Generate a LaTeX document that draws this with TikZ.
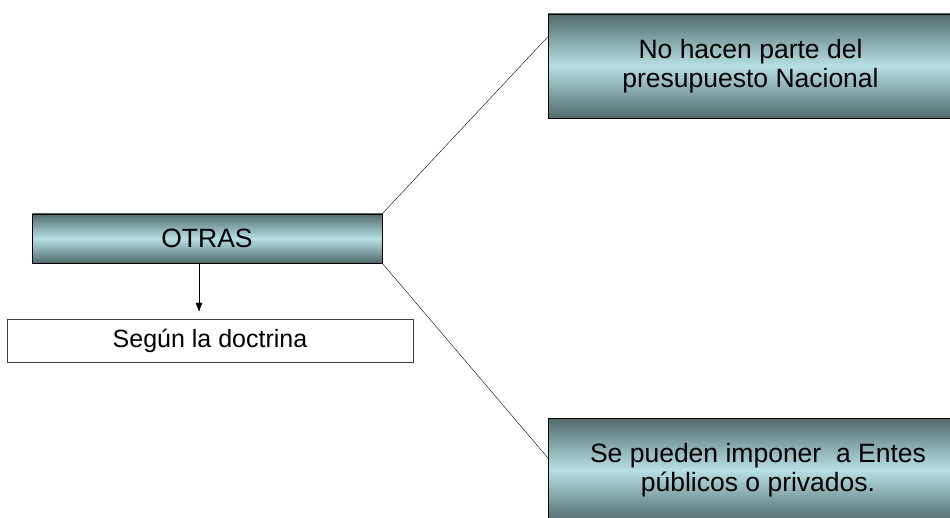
\documentclass[tikz,border=0pt]{standalone}
\usepackage{fontspec}
\setmainfont{Liberation Sans}
\usepackage{tikz}
\usetikzlibrary{%
  calc,
  positioning,
  arrows.meta,
}

\definecolor{boxdark}{RGB}{82,107,107}
\definecolor{boxlight}{RGB}{183,224,228}

\begin{document}
\begin{tikzpicture}[
          x = 1pt, y = -1pt,
          every node/.style = {
            font = \fontsize{26.5}{29}\selectfont,
            align = center,
            inner sep = 0pt,
          },
          caja/.style = {
            rectangle, draw = black, thin,
            top color = boxdark,
            bottom color = boxdark,
            middle color = boxlight,
          },
          blanca/.style = {
            rectangle, draw = black!75, thin,
            fill = white,
            font = \fontsize{25}{29}\selectfont,
          },
        ]
        \useasboundingbox (0,0) rectangle (950,518);
        \clip (0,0) rectangle (950,518);

        \node[caja, minimum width = 350pt, minimum height = 49pt]
          (otras) at (207,238.5) {OTRAS};
        \node[blanca, minimum width = 406pt, minimum height = 43pt]
          (doctrina) at (210,340.5) {Según la doctrina};
        \node[caja, minimum width = 405pt, minimum height = 104pt]
          (nohacen) at (750.5,66) {No hacen parte del\\presupuesto Nacional};
        \node[caja, minimum width = 420pt, minimum height = 104pt]
          (entes) at (758,470) {Se pueden imponer\ \ a Entes\\públicos o privados.};

        \begin{scope}[thin, black]
          \draw (otras.north east) -- ([yshift=-23pt]nohacen.north west);
          \draw (otras.south east) -- ([yshift=-40pt]entes.north west);
          \draw[-{Latex[length=9pt, width=7pt]}] ([xshift=-8pt]otras.south)
            -- ([xshift=-11pt, yshift=7pt]doctrina.north);
        \end{scope}
      \end{tikzpicture}
\end{document}
